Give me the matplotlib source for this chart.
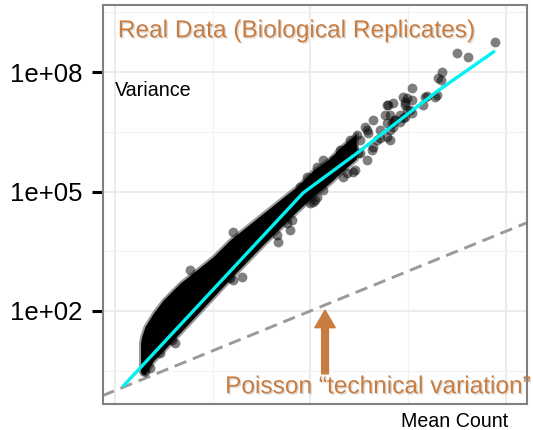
import matplotlib
matplotlib.use("Agg")
import matplotlib.pyplot as plt
import matplotlib.patheffects as pe
import numpy as np

plt.rcParams['font.family'] = ['Liberation Sans', 'DejaVu Sans']

ORANGE = '#c97c3f'

# dense part of the point cloud (log10 mean, log10 variance upper / lower edge)
band_log_mean = [0.262, 0.273, 0.307, 0.392, 0.494, 0.665, 0.836, 1.006, 1.177, 1.348,
                 1.518, 1.689, 1.860, 2.030, 2.201, 2.30, 2.47]
band_log_var_hi = [1.20, 1.354, 1.606, 1.942, 2.276, 2.696, 3.030, 3.364, 3.784, 4.118,
                   4.455, 4.789, 5.123, 5.543, 5.837, 6.10, 6.45]
band_log_var_lo = [0.48, 0.42, 0.40, 0.74, 1.00, 1.45, 1.90, 2.35, 2.80, 3.24,
                   3.67, 4.08, 4.50, 4.88, 5.22, 5.45, 5.82]

# individual genes outside the dense cloud (log10 mean, log10 variance)
gene_log_mean = [3.889, 3.497, 3.616, 3.344, 3.309, 3.334, 3.037, 2.951, 3.275, 3.190,
                 3.293, 3.173, 2.986, 3.156, 3.037, 2.968, 2.849, 2.781, 2.797, 3.019,
                 2.968, 2.986, 2.917, 2.764, 2.815, 3.037, 2.968, 2.951, 2.644, 2.856,
                 2.866, 2.832, 2.781, 2.917, 2.849, 2.576, 2.712, 2.815, 2.593, 2.781,
                 2.712, 2.679, 2.508, 2.815, 2.559, 2.405, 2.474, 2.439, 2.303, 2.372,
                 2.508, 2.627, 2.644, 2.576, 2.234, 2.372, 2.490, 2.132, 2.303, 2.456,
                 2.439, 2.372, 2.337, 2.201, 2.167, 2.132, 2.064, 2.064, 2.132, 2.047,
                 1.996, 1.962, 1.894,
                 1.671, 1.791, 1.809, 1.757, 1.655, 2.030, 2.064, 1.211, 0.768, 1.297,
                 1.211, 1.177, 0.580, 0.461, 0.358, 0.307, 0.614]
gene_log_var = [8.766, 8.475, 8.389, 8.013, 7.847, 7.804, 7.596, 7.384, 7.384, 7.402,
                7.427, 7.384, 7.344, 7.176, 7.302, 7.259, 7.219, 7.176, 7.176, 7.050,
                7.176, 7.050, 6.925, 6.925, 6.925, 6.967, 6.882, 6.842, 6.799, 6.799,
                6.799, 6.716, 6.716, 6.756, 6.631, 6.548, 6.548, 6.548, 6.465, 6.379,
                6.339, 6.296, 6.296, 6.296, 6.631, 6.296, 6.422, 6.128, 6.045, 5.877,
                5.962, 6.045, 6.128, 5.794, 5.794, 6.045, 5.962, 5.794, 5.626, 5.543,
                5.500, 5.460, 5.374, 5.460, 5.543, 5.374, 5.626, 5.209, 5.040, 4.789,
                4.706, 5.374, 5.123,
                3.741, 4.035, 4.286, 4.204, 3.910, 4.746, 4.872, 3.992, 3.030, 2.862,
                2.779, 2.822, 1.271, 0.937, 0.560, 0.500, 1.196]

# fitted mean-variance trend
fit_log_mean = [0.079, 1.925, 2.474, 3.293, 3.889]
fit_log_var = [0.098, 4.965, 5.960, 7.510, 8.533]

# Poisson: variance equals mean
poisson_mean = [10 ** -0.5, 10 ** 4.5]

y_ticks = [1e2, 1e5, 1e8]
y_tick_labels = ['1e+02', '1e+05', '1e+08']
y_minor = [10 ** 0.5, 10 ** 3.5, 10 ** 6.5, 10 ** 9.5]
x_major = [1e0, 1e2, 1e4]
x_minor = [1e1, 1e3]

fig = plt.figure(figsize=(5.33, 4.30), dpi=100)
ax = fig.add_axes([0.1932, 0.0605, 0.7955, 0.928])
ax.set_xscale('log')
ax.set_yscale('log')
ax.set_xlim(10 ** -0.123, 10 ** 4.217)
ax.set_ylim(10 ** -0.337, 10 ** 9.688)

# grid
ax.set_yticks(y_ticks)
ax.set_yticklabels(y_tick_labels)
ax.set_yticks(y_minor, minor=True)
ax.set_xticks(x_major)
ax.set_xticks(x_minor, minor=True)
ax.xaxis.set_major_formatter(plt.NullFormatter())
ax.xaxis.set_minor_formatter(plt.NullFormatter())
ax.yaxis.set_minor_formatter(plt.NullFormatter())
ax.grid(True, which='major', color='#ebebeb', linewidth=1.3)
ax.grid(True, which='minor', color='#f2f2f2', linewidth=0.9)
ax.set_axisbelow(True)
ax.tick_params(axis='x', which='both', length=0)
ax.tick_params(axis='y', which='minor', length=0)
ax.tick_params(axis='y', which='major', length=8, width=2.2, pad=7,
               labelsize=18.5, color='black')
for sp in ax.spines.values():
    sp.set_color('#808080')
    sp.set_linewidth(1.5)

# Poisson line
ax.plot(poisson_mean, poisson_mean, color='#9a9a9a', linewidth=2.1,
        linestyle=(0, (4.3, 2.4)), zorder=2)

# dense cloud
bx = 10 ** np.array(band_log_mean)
ax.fill_between(bx, 10 ** np.array(band_log_var_lo), 10 ** np.array(band_log_var_hi),
                facecolor='black', edgecolor=(0, 0, 0, 0.4), linewidth=3, zorder=3)

# individual genes
ax.scatter(10 ** np.array(gene_log_mean), 10 ** np.array(gene_log_var),
           s=50, color='black', alpha=0.5, linewidths=0, zorder=4)

# trend
ax.plot(10 ** np.array(fit_log_mean), 10 ** np.array(fit_log_var),
        color='#00f2f2', linewidth=2.4, solid_capstyle='butt', zorder=5)

shadow = [pe.SimplePatchShadow(offset=(1, -1), shadow_rgbFace='#999999', alpha=0.35),
          pe.Normal()]

ax.text(0.035, 0.919, 'Real Data (Biological Replicates)', transform=ax.transAxes,
        fontsize=17.6, color=ORANGE, ha='left', va='baseline', path_effects=shadow,
        zorder=6)
ax.text(0.288, 0.027, 'Poisson \u201ctechnical variation\u201d', transform=ax.transAxes,
        fontsize=17.6, color=ORANGE, ha='left', va='baseline', path_effects=shadow,
        zorder=6, clip_on=False)
ax.annotate('', xy=(10 ** 2.15, 10 ** 2.02), xytext=(10 ** 2.15, 10 ** 0.42),
            arrowprops=dict(arrowstyle='simple,head_length=0.9,head_width=1.05,tail_width=0.35',
                            color=ORANGE, shrinkA=0, shrinkB=0, mutation_scale=14),
            zorder=6)

ax.text(0.029, 0.771, 'Variance', transform=ax.transAxes, fontsize=14.2,
        ha='left', va='baseline', color='black')
fig.text(0.953, 0.0077, 'Mean Count', fontsize=14.1, ha='right', va='baseline',
         color='black')

fig.savefig('out.png', dpi=100)
